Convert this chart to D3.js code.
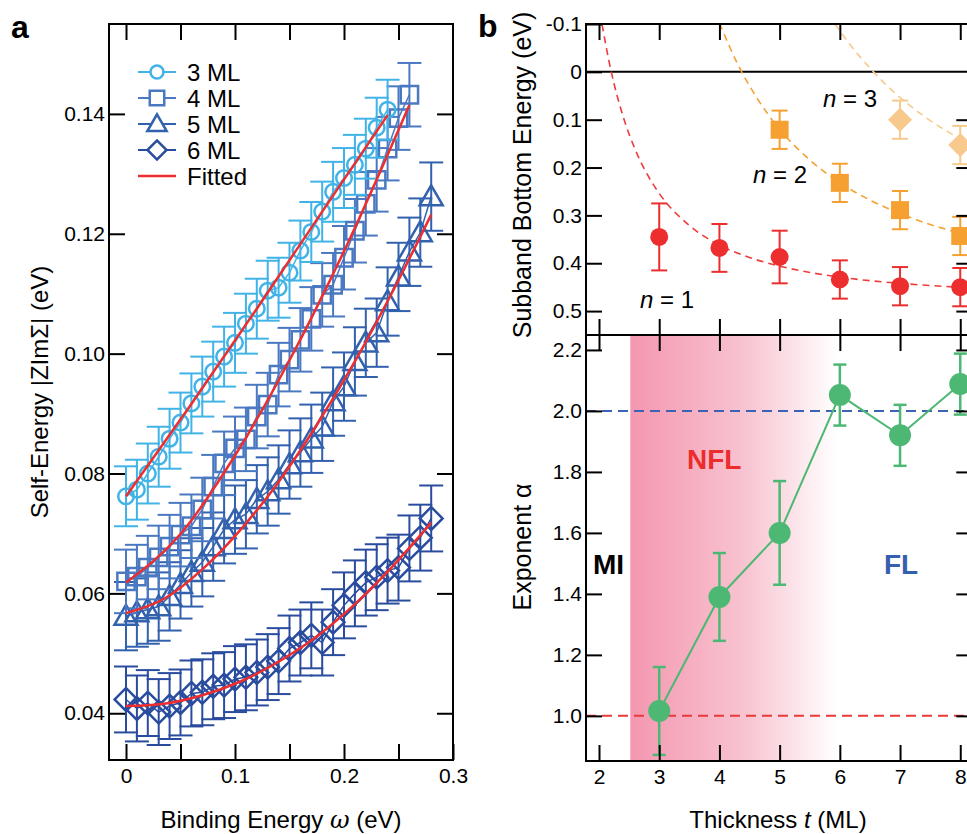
<!DOCTYPE html>
<html>
<head>
<meta charset="utf-8">
<script src="https://cdn.jsdelivr.net/npm/d3@7"></script>
<style>
  body { margin: 0; background: #fff; }
  svg { display: block; font-family: "Liberation Sans", Arial, Helvetica, sans-serif; }
</style>
</head>
<body>
<div id="chart"></div>
<script>
// ---- panel a data: self-energy vs binding energy ----
const bindingEnergy = [0, 0.01, 0.02, 0.03, 0.04, 0.05, 0.06, 0.07, 0.08, 0.09,
  0.10, 0.11, 0.12, 0.13, 0.14, 0.15, 0.16, 0.17, 0.18, 0.19,
  0.20, 0.21, 0.22, 0.23, 0.24, 0.25, 0.26, 0.27, 0.28];

const se3ML = [0.0762, 0.0773, 0.0800, 0.0828, 0.0858, 0.0885, 0.0917, 0.0945, 0.0970, 0.0995,
  0.1018, 0.1050, 0.1075, 0.1105, 0.1110, 0.1135, 0.1172, 0.1203, 0.1237, 0.1270,
  0.1293, 0.1315, 0.1342, 0.1377, 0.1407];
const se4ML = [0.0620, 0.0628, 0.0643, 0.0660, 0.0678, 0.0698, 0.0712, 0.0740, 0.0778, 0.0817,
  0.0842, 0.0857, 0.0895, 0.0915, 0.0965, 0.0990, 0.1023, 0.1058, 0.1098, 0.1115,
  0.1160, 0.1205, 0.1250, 0.1290, 0.1342, 0.1393, 0.1432];
const se5ML = [0.0562, 0.0568, 0.0573, 0.0578, 0.0595, 0.0615, 0.0635, 0.0652, 0.0678, 0.0707,
  0.0723, 0.0732, 0.0757, 0.0770, 0.0790, 0.0815, 0.0835, 0.0858, 0.0878, 0.0920,
  0.0945, 0.0987, 0.1018, 0.1035, 0.1087, 0.1128, 0.1170, 0.1202, 0.1262];
const se6ML = [0.0423, 0.0408, 0.0417, 0.0402, 0.0412, 0.0418, 0.0433, 0.0435, 0.0445, 0.0447,
  0.0457, 0.0460, 0.0468, 0.0477, 0.0487, 0.0508, 0.0518, 0.0530, 0.0518, 0.0552,
  0.0580, 0.0600, 0.0618, 0.0627, 0.0638, 0.0643, 0.0675, 0.0693, 0.0725];
const seErr = [0.0050, 0.0053, 0.0057, 0.0055];
const seNames = ["3 ML", "4 ML", "5 ML", "6 ML"];
const seColors = ["#41b3e6", "#4a79c2", "#3261ae", "#2a4c9f"];

// fitted curves
const fit3x = [0, 0.06, 0.12, 0.18, 0.24];
const fit3y = [0.0762, 0.0916, 0.1075, 0.1237, 0.1398];
const fit4x = [0, 0.05, 0.10, 0.15, 0.20, 0.26];
const fit4y = [0.0618, 0.0699, 0.0830, 0.0989, 0.1171, 0.1415];
const fit5x = [0, 0.035, 0.07, 0.105, 0.14, 0.175, 0.21, 0.245, 0.28];
const fit5y = [0.0567, 0.0591, 0.0640, 0.0706, 0.0786, 0.0881, 0.0987, 0.1105, 0.1232];
const fit6x = [0, 0.035, 0.07, 0.105, 0.14, 0.175, 0.21, 0.245, 0.28];
const fit6y = [0.0412, 0.0416, 0.0430, 0.0453, 0.0486, 0.0528, 0.0582, 0.0646, 0.0718];

// ---- panel b data ----
const thickness = [3, 4, 5, 6, 7, 8];
const n1Energy = [0.345, 0.368, 0.387, 0.434, 0.448, 0.450];
const n1Err = [0.070, 0.050, 0.055, 0.040, 0.040, 0.040];
const n2Thick = [5, 6, 7, 8];
const n2Energy = [0.121, 0.232, 0.289, 0.343];
const n2Err = [0.040, 0.040, 0.040, 0.040];
const n3Thick = [7, 8];
const n3Energy = [0.100, 0.153];
const n3Err = [0.040, 0.040];

const n1FitT = [2.05, 2.2, 2.4, 2.6, 2.8, 3.0, 3.5, 4.0, 4.5, 5.0, 6.0, 7.0, 8.0, 8.2];
const n1FitE = [-0.099, -0.002, 0.093, 0.162, 0.214, 0.254, 0.321, 0.362, 0.388, 0.406, 0.429, 0.442, 0.450, 0.451];
const n2FitT = [4.0, 4.3, 4.6, 5.0, 5.5, 6.0, 6.5, 7.0, 7.5, 8.0, 8.2];
const n2FitE = [-0.102, -0.017, 0.050, 0.120, 0.184, 0.232, 0.268, 0.296, 0.319, 0.337, 0.343];
const n3FitT = [5.92, 6.2, 6.5, 6.8, 7.1, 7.4, 7.7, 8.0, 8.2];
const n3FitE = [-0.100, -0.052, -0.008, 0.031, 0.064, 0.093, 0.118, 0.140, 0.154];

const alphaExp = [1.016, 1.39, 1.60, 2.052, 1.92, 2.088];
const alphaErr = [0.144, 0.144, 0.17, 0.10, 0.10, 0.10];

const W = 967, H = 834;
const svg = d3.select("#chart").append("svg").attr("width", W).attr("height", H);

// small helper: inward ticks, style text
function styleAxis(g, size) {
  g.select(".domain").remove();
  g.selectAll(".tick line").attr("stroke", "#000").attr("stroke-width", 2);
  g.selectAll(".tick text").attr("fill", "#000").style("font-size", size + "px");
  g.attr("font-family", null);
}

function errBars(g, data, x, y, half, color, width) {
  let eb = g.append("g").attr("stroke", color).attr("stroke-width", width).attr("fill", "none");
  data.forEach(d => {
    let px = x(d.x), y1 = y(d.y - d.e), y2 = y(d.y + d.e);
    eb.append("line").attr("x1", px).attr("x2", px).attr("y1", y1).attr("y2", y2);
    eb.append("line").attr("x1", px - half).attr("x2", px + half).attr("y1", y1).attr("y2", y1);
    eb.append("line").attr("x1", px - half).attr("x2", px + half).attr("y1", y2).attr("y2", y2);
  });
}

// ================= panel a =================
const xa = d3.scaleLinear().domain([-0.0156, 0.3]).range([109, 453]);
const ya = d3.scaleLinear().domain([0.0322, 0.155]).range([760, 24]);
const gA = svg.append("g");

const seSeries = [se3ML, se4ML, se5ML, se6ML];
const symTypes = [d3.symbolCircle, d3.symbolSquare, d3.symbolTriangle, d3.symbolSquare];
const symSizes = [190, 300, 230, 260];
const symRot = [0, 0, 0, 45];

const lineA = d3.line().x(d => xa(d.x)).y(d => ya(d.y));

// draw 6 ML first, 3 ML last
for (let s = 3; s >= 0; s--) {
  let pts = seSeries[s].map((v, i) => ({x: bindingEnergy[i], y: v, e: seErr[s]}));
  let g = gA.append("g");
  g.append("path").attr("d", lineA(pts)).attr("fill", "none")
    .attr("stroke", seColors[s]).attr("stroke-width", 1.5);
  errBars(g, pts, xa, ya, 12, seColors[s], 2);
  g.selectAll("path.m").data(pts).enter().append("path").attr("class", "m")
    .attr("d", d3.symbol().type(symTypes[s]).size(symSizes[s]))
    .attr("transform", d => `translate(${xa(d.x)},${ya(d.y) + (s === 2 ? 2 : 0)}) rotate(${symRot[s]})`)
    .attr("fill", "none").attr("stroke", seColors[s]).attr("stroke-width", 2.5);
}

const fitLine = d3.line().x(d => xa(d[0])).y(d => ya(d[1])).curve(d3.curveMonotoneX);
[[fit3x, fit3y], [fit4x, fit4y], [fit5x, fit5y], [fit6x, fit6y]].forEach(f => {
  gA.append("path").attr("d", fitLine(d3.zip(f[0], f[1])))
    .attr("fill", "none").attr("stroke", "#ee2e2e").attr("stroke-width", 2.5);
});

// axes panel a
gA.append("g").attr("transform", "translate(109,0)")
  .call(d3.axisLeft(ya).tickValues([0.04, 0.06, 0.08, 0.10, 0.12, 0.14]).tickSize(-16).tickPadding(4).tickFormat(d3.format(".2f")))
  .call(g => styleAxis(g, 21));
gA.append("g").attr("transform", "translate(453,0)")
  .call(d3.axisRight(ya).tickValues([0.04, 0.06, 0.08, 0.10, 0.12, 0.14]).tickSize(-16).tickFormat(""))
  .call(g => styleAxis(g, 21));
gA.append("g").attr("transform", "translate(0,760)")
  .call(d3.axisBottom(xa).tickValues([0, 0.05, 0.1, 0.15, 0.2, 0.25, 0.3]).tickSize(-16).tickPadding(8)
    .tickFormat(d => (Math.round(d * 100) % 10 === 0) ? (d === 0 ? "0" : d3.format(".1f")(d)) : ""))
  .call(g => styleAxis(g, 21));
gA.append("g").attr("transform", "translate(0,24)")
  .call(d3.axisTop(xa).tickValues([0, 0.05, 0.1, 0.15, 0.2, 0.25]).tickSize(-16).tickFormat(""))
  .call(g => styleAxis(g, 21));
gA.append("rect").attr("x", 109).attr("y", 24).attr("width", 344).attr("height", 736)
  .attr("fill", "none").attr("stroke", "#000").attr("stroke-width", 2);

// legend panel a
const legA = gA.append("g");
seNames.forEach((name, s) => {
  let y = 72 + s * 26;
  legA.append("line").attr("x1", 138).attr("x2", 176).attr("y1", y).attr("y2", y)
    .attr("stroke", seColors[s]).attr("stroke-width", 2);
  legA.append("path").attr("d", d3.symbol().type(symTypes[s]).size(symSizes[s] * 0.7))
    .attr("transform", `translate(157,${y + (s === 2 ? 1.5 : 0)}) rotate(${symRot[s]})`)
    .attr("fill", "#fff").attr("stroke", seColors[s]).attr("stroke-width", 2.5);
  legA.append("text").attr("x", 187).attr("y", y + 8.5).style("font-size", "24px").text(name);
});
legA.append("line").attr("x1", 138).attr("x2", 176).attr("y1", 176).attr("y2", 176)
  .attr("stroke", "#ee2e2e").attr("stroke-width", 2.5);
legA.append("text").attr("x", 187).attr("y", 184.5).style("font-size", "24px").text("Fitted");

// titles panel a
gA.append("text").attr("transform", "translate(48,392) rotate(-90)").attr("text-anchor", "middle")
  .style("font-size", "24px").text("Self-Energy |ZImΣ| (eV)");
const xtA = gA.append("text").attr("x", 281).attr("y", 828).attr("text-anchor", "middle").style("font-size", "24px");
xtA.append("tspan").text("Binding Energy ");
xtA.append("tspan").style("font-style", "italic").attr("font-family", "DejaVu Serif, serif").text("ω");
xtA.append("tspan").text(" (eV)");
svg.append("text").attr("x", 11).attr("y", 38).style("font-size", "32px").style("font-weight", "bold").text("a");

// ================= panel b =================
const xb = d3.scaleLinear().domain([1.784, 8.2]).range([586, 972.3]);
const yt = d3.scaleLinear().domain([-0.1, 0.55]).range([24, 335]);
const yb = d3.scaleLinear().domain([0.852, 2.249]).range([761, 335]);
const gB = svg.append("g");

// --- bottom: exponent ---
const defs = svg.append("defs");
const grad = defs.append("linearGradient").attr("id", "nflGrad").attr("x1", "0%").attr("x2", "100%");
grad.append("stop").attr("offset", "0%").attr("stop-color", "#f497b0");
grad.append("stop").attr("offset", "55%").attr("stop-color", "#f8c3d0");
grad.append("stop").attr("offset", "100%").attr("stop-color", "#ffffff");
gB.append("rect").attr("x", xb(2.52)).attr("y", 335).attr("width", xb(5.95) - xb(2.52)).attr("height", 426)
  .attr("fill", "url(#nflGrad)");

gB.append("line").attr("x1", 586).attr("x2", W).attr("y1", yb(2.0)).attr("y2", yb(2.0))
  .attr("stroke", "#3b62b3").attr("stroke-width", 2).attr("stroke-dasharray", "10,6");
gB.append("line").attr("x1", 586).attr("x2", W).attr("y1", yb(1.0)).attr("y2", yb(1.0))
  .attr("stroke", "#e83a3a").attr("stroke-width", 2).attr("stroke-dasharray", "10,6");

const alphaPts = thickness.map((t, i) => ({x: t, y: alphaExp[i], e: alphaErr[i]}));
gB.append("path").attr("d", d3.line().x(d => xb(d.x)).y(d => yb(d.y))(alphaPts))
  .attr("fill", "none").attr("stroke", "#4cb873").attr("stroke-width", 2);
errBars(gB, alphaPts, xb, yb, 6.5, "#4cb873", 2.5);
gB.selectAll("circle.al").data(alphaPts).enter().append("circle").attr("class", "al")
  .attr("cx", d => xb(d.x)).attr("cy", d => yb(d.y)).attr("r", 11).attr("fill", "#4cb873");

gB.append("text").attr("x", 593).attr("y", 574).style("font-size", "28px").style("font-weight", "bold").text("MI");
gB.append("text").attr("x", 687).attr("y", 469).style("font-size", "28px").style("font-weight", "bold")
  .attr("fill", "#ec2d2d").text("NFL");
gB.append("text").attr("x", 884).attr("y", 574).style("font-size", "28px").style("font-weight", "bold")
  .attr("fill", "#3560b0").text("FL");

// --- top: subband energies ---
gB.append("line").attr("x1", 586).attr("x2", W).attr("y1", yt(0)).attr("y2", yt(0))
  .attr("stroke", "#000").attr("stroke-width", 2);

const dashLine = d3.line().x(d => xb(d[0])).y(d => yt(d[1])).curve(d3.curveMonotoneX);
const gTop = gB.append("g");
gTop.append("path").attr("d", dashLine(d3.zip(n1FitT, n1FitE))).attr("fill", "none")
  .attr("stroke", "#ee3b3b").attr("stroke-width", 1.6).attr("stroke-dasharray", "7,5");
gTop.append("path").attr("d", dashLine(d3.zip(n2FitT, n2FitE))).attr("fill", "none")
  .attr("stroke", "#f4a233").attr("stroke-width", 1.6).attr("stroke-dasharray", "7,5");
gTop.append("path").attr("d", dashLine(d3.zip(n3FitT, n3FitE))).attr("fill", "none")
  .attr("stroke", "#f7c98c").attr("stroke-width", 1.6).attr("stroke-dasharray", "7,5");

const n1Pts = thickness.map((t, i) => ({x: t, y: n1Energy[i], e: n1Err[i]}));
const n2Pts = n2Thick.map((t, i) => ({x: t, y: n2Energy[i], e: n2Err[i]}));
const n3Pts = n3Thick.map((t, i) => ({x: t, y: n3Energy[i], e: n3Err[i]}));
errBars(gTop, n1Pts, xb, yt, 8, "#ec2e2e", 2);
errBars(gTop, n2Pts, xb, yt, 8, "#f5a031", 2);
errBars(gTop, n3Pts, xb, yt, 8, "#f7c98c", 2);
gTop.selectAll("circle.n1").data(n1Pts).enter().append("circle").attr("class", "n1")
  .attr("cx", d => xb(d.x)).attr("cy", d => yt(d.y)).attr("r", 9).attr("fill", "#ec2e2e");
gTop.selectAll("path.n2").data(n2Pts).enter().append("path").attr("class", "n2")
  .attr("d", d3.symbol().type(d3.symbolSquare).size(324))
  .attr("transform", d => `translate(${xb(d.x)},${yt(d.y)})`).attr("fill", "#f5a031");
gTop.selectAll("path.n3").data(n3Pts).enter().append("path").attr("class", "n3")
  .attr("d", d3.symbol().type(d3.symbolSquare).size(290))
  .attr("transform", d => `translate(${xb(d.x)},${yt(d.y)}) rotate(45)`).attr("fill", "#f7c98c");

[["1", 640, 308], ["2", 753, 183], ["3", 823, 107]].forEach(l => {
  let t = gB.append("text").attr("x", l[1]).attr("y", l[2]).style("font-size", "24px");
  t.append("tspan").style("font-style", "italic").text("n");
  t.append("tspan").text(" = " + l[0]);
});

// axes panel b
const tickT = [2, 3, 4, 5, 6, 7, 8];
const fmtTop = d => d === 0 ? "0" : (d < 0 ? "-" + d3.format(".1f")(-d) : d3.format(".1f")(d));
gB.append("g").attr("transform", "translate(586,0)")
  .call(d3.axisLeft(yt).tickValues([-0.1, 0, 0.1, 0.2, 0.3, 0.4, 0.5]).tickSize(-16).tickPadding(4).tickFormat(fmtTop))
  .call(g => styleAxis(g, 21));
gB.append("g").attr("transform", "translate(972.3,0)")
  .call(d3.axisRight(yt).tickValues([0.1, 0.2, 0.3, 0.4, 0.5]).tickSize(-16).tickFormat(""))
  .call(g => styleAxis(g, 21));
gB.append("g").attr("transform", "translate(586,0)")
  .call(d3.axisLeft(yb).tickValues([1.0, 1.2, 1.4, 1.6, 1.8, 2.0, 2.2]).tickSize(-16).tickPadding(4).tickFormat(d3.format(".1f")))
  .call(g => styleAxis(g, 21));
gB.append("g").attr("transform", "translate(972.3,0)")
  .call(d3.axisRight(yb).tickValues([1.0, 1.2, 1.4, 1.6, 1.8, 2.0, 2.2]).tickSize(-16).tickFormat(""))
  .call(g => styleAxis(g, 21));
gB.append("g").attr("transform", "translate(0,24)")
  .call(d3.axisTop(xb).tickValues(tickT).tickSize(-16).tickFormat(""))
  .call(g => styleAxis(g, 21));
gB.append("g").attr("transform", "translate(0,335)")
  .call(d3.axisBottom(xb).tickValues(tickT).tickSize(-16).tickFormat(""))
  .call(g => styleAxis(g, 21));
gB.append("g").attr("transform", "translate(0,335)")
  .call(d3.axisTop(xb).tickValues(tickT).tickSize(-16).tickFormat(""))
  .call(g => styleAxis(g, 21));
gB.append("g").attr("transform", "translate(0,761)")
  .call(d3.axisBottom(xb).tickValues(tickT).tickSize(-16).tickPadding(8).tickFormat(d3.format("d")))
  .call(g => styleAxis(g, 21));

gB.append("rect").attr("x", 586).attr("y", 24).attr("width", 972.3 - 586).attr("height", 737)
  .attr("fill", "none").attr("stroke", "#000").attr("stroke-width", 2);
gB.append("line").attr("x1", 586).attr("x2", 972.3).attr("y1", 335).attr("y2", 335)
  .attr("stroke", "#000").attr("stroke-width", 2);

// titles panel b
gB.append("text").attr("transform", "translate(531,175) rotate(-90)").attr("text-anchor", "middle")
  .style("font-size", "25px").text("Subband Bottom Energy (eV)");
gB.append("text").attr("transform", "translate(531,547) rotate(-90)").attr("text-anchor", "middle")
  .style("font-size", "25px").text("Exponent α");
const xtB = gB.append("text").attr("x", 778).attr("y", 828).attr("text-anchor", "middle").style("font-size", "24px");
xtB.append("tspan").text("Thickness ");
xtB.append("tspan").style("font-style", "italic").text("t");
xtB.append("tspan").text(" (ML)");
svg.append("text").attr("x", 478).attr("y", 37).style("font-size", "32px").style("font-weight", "bold").text("b");
</script>
</body>
</html>
